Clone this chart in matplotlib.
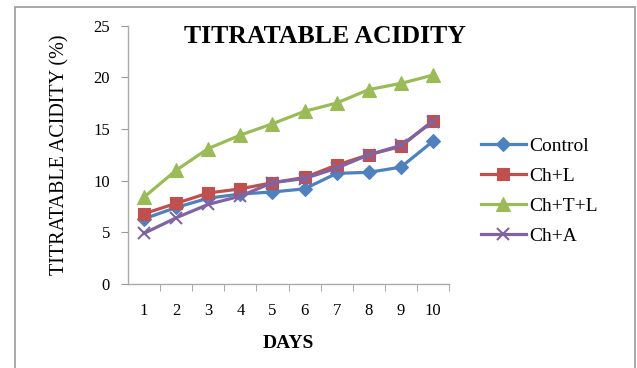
import matplotlib
matplotlib.use("Agg")
import matplotlib.pyplot as plt
from matplotlib.patches import Rectangle

# ---------------------------------------------------------------------------
# Data
# ---------------------------------------------------------------------------
days = [1, 2, 3, 4, 5, 6, 7, 8, 9, 10]
control = [6.3, 7.4, 8.3, 8.7, 8.9, 9.2, 10.7, 10.8, 11.3, 13.8]
ch_l = [6.8, 7.8, 8.8, 9.2, 9.8, 10.3, 11.5, 12.5, 13.3, 15.8]
ch_t_l = [8.4, 11.0, 13.1, 14.4, 15.5, 16.7, 17.5, 18.8, 19.4, 20.2]
ch_a = [4.9, 6.4, 7.7, 8.5, 9.8, 10.2, 11.2, 12.5, 13.4, 15.7]

series = [
    ("Control", control, "#4F81BD", "D", 7),
    ("Ch+L", ch_l, "#C0504D", "s", 9),
    ("Ch+T+L", ch_t_l, "#9BBB59", "^", 10),
    ("Ch+A", ch_a, "#8064A2", "x", 8),
]

plt.rcParams["font.family"] = ["Liberation Serif", "DejaVu Serif"]

fig = plt.figure(figsize=(6.37, 3.68), dpi=100)
fig.patches.append(Rectangle((15 / 637, -0.01), 620 / 637, 1 - 7 / 368 + 0.01,
                             transform=fig.transFigure, fill=False,
                             edgecolor="#999999", linewidth=1.2))

ax = fig.add_axes([128 / 637, 1 - 284 / 368, 321 / 637, (284 - 25.5) / 368])

x = list(range(len(days)))
for name, vals, color, marker, ms in series:
    mew = 1.5 if marker == "x" else 0.8
    ax.plot(x, vals, color=color, linewidth=2.3, marker=marker, markersize=ms,
            markeredgewidth=mew, label=name, zorder=3)

ax.set_xlim(-0.5, len(days) - 0.5)
ax.set_ylim(0, 25)
ax.set_yticks([0, 5, 10, 15, 20, 25])
ax.set_xticks(x)
ax.set_xticklabels([str(d) for d in days])
ax.set_xticks([i + 0.5 for i in range(len(days))], minor=True)
ax.tick_params(axis="x", which="major", length=0, pad=14, labelsize=12)
ax.tick_params(axis="x", which="minor", length=5, color="#999999", direction="out")
ax.tick_params(axis="y", length=5, color="#999999", labelsize=12, pad=8)

for s in ["top", "right"]:
    ax.spines[s].set_visible(False)
for s in ["left", "bottom"]:
    ax.spines[s].set_color("#AAAAAA")
    ax.spines[s].set_linewidth(1.0)

ax.set_ylabel("TITRATABLE ACIDITY (%)", fontsize=14.5, labelpad=17)
ax.set_xlabel("DAYS", fontsize=14, fontweight="bold", labelpad=11)

fig.text(0.51, 0.902, "TITRATABLE ACIDITY", fontsize=18.5, fontweight="bold",
         ha="center", va="center")

ax.legend(loc="center left", bbox_to_anchor=(1.075, 0.36), frameon=False,
          fontsize=14, handlelength=2.3, labelspacing=0.64, handletextpad=0.2,
          borderaxespad=0)

fig.savefig("out.png", dpi=100)
